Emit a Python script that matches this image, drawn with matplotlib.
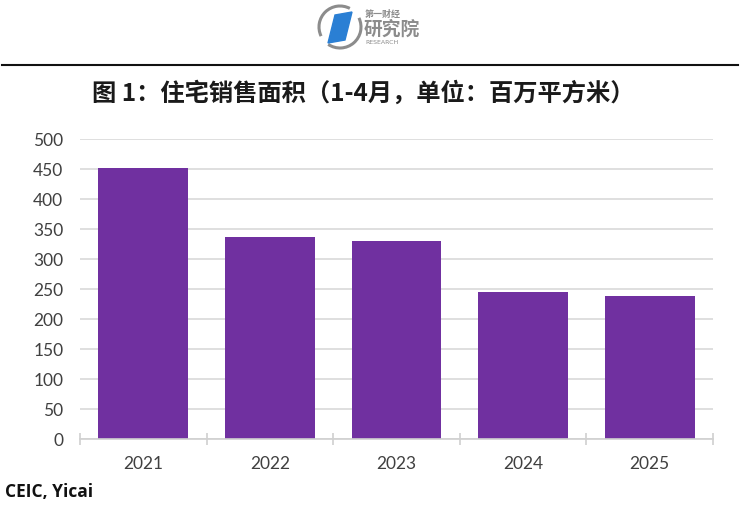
import matplotlib
matplotlib.use("Agg")
import matplotlib.pyplot as plt
from matplotlib.patches import Polygon, Arc
from matplotlib.lines import Line2D

years = ["2021", "2022", "2023", "2024", "2025"]
sales_area = [452, 337, 330, 245, 239]
yticks = [0, 50, 100, 150, 200, 250, 300, 350, 400, 450, 500]

title = "图 1：住宅销售面积（1-4月，单位：百万平方米）"
source = "CEIC, Yicai"

W, H = 740, 509
fig = plt.figure(figsize=(W / 100, H / 100), dpi=100)
fig.patch.set_facecolor("white")

def fx(px):
    return px / W

def fy(py):
    return 1 - py / H

ax = fig.add_axes([fx(80), fy(439), fx(713) - fx(80), fy(139) - fy(439)])
x = list(range(len(years)))
ax.bar(x, sales_area, width=0.71, color="#7030A0", zorder=3)
ax.set_xlim(-0.5, len(years) - 0.5)
ax.set_ylim(0, 500)
ax.set_yticks(yticks)
ax.set_yticklabels([str(v) for v in yticks], fontfamily="Lato", fontsize=12.5, color="#404040")
ax.tick_params(axis="y", length=0, pad=12)
ax.yaxis.grid(True, color="#d9d9d9", linewidth=1.2, zorder=0)
ax.set_axisbelow(True)
for s in ["top", "right", "left"]:
    ax.spines[s].set_visible(False)
ax.spines["bottom"].set_color("#d0d0d0")
ax.spines["bottom"].set_linewidth(1.2)
ax.spines["bottom"].set_zorder(4)

ax.set_xticks([i - 0.5 for i in range(len(years) + 1)])
ax.set_xticklabels([])
ax.tick_params(axis="x", which="major", length=9, direction="inout", color="#d0d0d0", width=1.2)
ax.set_xticks(x, minor=True)
ax.set_xticklabels(years, minor=True, fontfamily="Lato", fontsize=12.5, color="#404040")
ax.tick_params(axis="x", which="minor", length=0, pad=12)

# title
fig.text(fx(363), fy(93), title, ha="center", va="center", fontsize=17.5, fontweight="bold",
         family=["Noto Sans CJK SC", "DejaVu Sans"], color="#1a1a1a")

# source
fig.text(fx(5), fy(492), source, ha="left", va="center", fontsize=12.5, fontweight="bold",
         family="Open Sans", color="#111111")

# header rule
fig.add_artist(Line2D([fx(2), fx(738)], [fy(64.5), fy(64.5)], color="#111111", linewidth=1.5))

# logo
gray = "#8c8c8c"
cx, cy, r = 340, 27, 21
arc_w = 2 * r / W
arc_h = 2 * r / H
fig.add_artist(Arc((fx(cx), fy(cy)), arc_w, arc_h, theta1=70, theta2=215, color=gray, linewidth=2.2))
fig.add_artist(Arc((fx(cx), fy(cy)), arc_w, arc_h, theta1=245, theta2=395, color=gray, linewidth=2.2))
pts = [(335, 15), (352, 12), (345, 40), (328, 43)]
fig.add_artist(Polygon([(fx(a), fy(b)) for a, b in pts], closed=True, color="#2a7fd4"))
fig.text(fx(365), fy(14), "第一财经", ha="left", va="center", fontsize=6.5, fontweight="bold",
         family=["Noto Sans CJK SC"], color=gray)
fig.text(fx(364), fy(29), "研究院", ha="left", va="center", fontsize=13.5, fontweight="bold",
         family=["Noto Sans CJK SC"], color=gray)
fig.text(fx(365), fy(43), "RESEARCH", ha="left", va="center", fontsize=4.5,
         family="DejaVu Sans", color=gray)

fig.savefig("out.png", dpi=100, facecolor="white")
